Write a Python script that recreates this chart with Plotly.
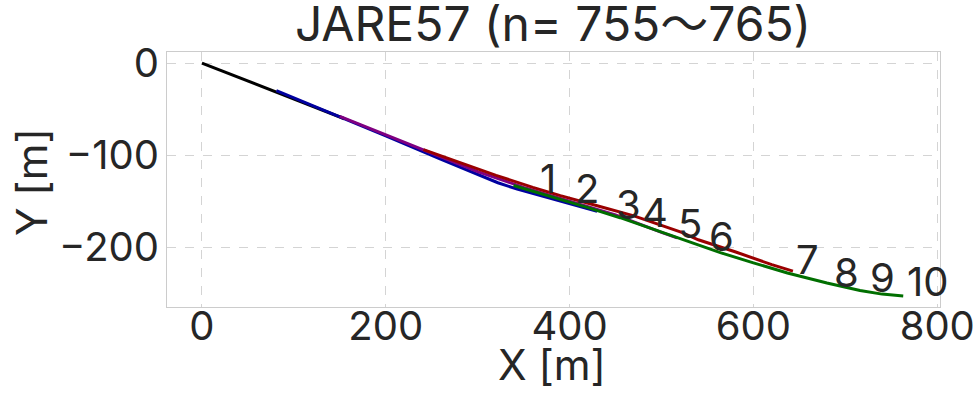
import plotly.graph_objects as go

# Survey tracks, positions in metres (x east, y north of the start point)
black_x = [0, 20, 38, 60, 80, 100, 120, 140, 155]
black_y = [0, -7.8, -14.5, -23.5, -31, -39, -47, -55, -60.5]

blue_x = [81, 120, 160, 200, 259, 300, 322, 343, 380, 410, 430]
blue_y = [-30, -46, -62, -79, -104, -121, -130, -137, -147, -155, -161]

purple_x = [150, 200, 250, 300, 350, 400, 450, 500, 517]
purple_y = [-58, -78, -98, -118, -135, -150, -165, -184, -190]

red_x = [241, 280, 320, 360, 390, 430, 470, 522, 540, 580, 620, 643]
red_y = [-94, -108, -122, -135, -144, -155, -166, -184, -192, -205, -219, -226]

green_x = [339, 380, 420, 455, 500, 540, 564, 600, 637, 680, 716, 740, 763]
green_y = [-133, -145, -157, -168, -184, -198, -206, -217, -228, -239, -247, -251, -253]

# Station numbers written along the route
label_text = ["1", "2", "3", "4", "5", "6", "7", "8", "9", "10"]
label_x = [376.5, 419.1, 464.6, 492.9, 530.5, 565.8, 658.3, 701.8, 739.9, 790.0]
label_y = [-125.3, -136.2, -153.6, -162.3, -174.2, -188.4, -213.4, -227.5, -232.9, -237.3]

x_ticks = [0, 200, 400, 600, 800]
y_ticks = [-200, -100, 0]

TEXT = "#262626"
FONT = "Inter, 'Noto Sans CJK JP', sans-serif"

# Plot-area geometry in pixels, used to place the axis titles
FIG_W, FIG_H = 976, 399
M_L, M_R, M_T, M_B = 167, 36, 52, 92
PLOT_W = FIG_W - M_L - M_R
PLOT_H = FIG_H - M_T - M_B

tracks = [
    (black_x, black_y, "#000000"),
    (blue_x, blue_y, "#0000a0"),
    (purple_x, purple_y, "#800080"),
    (red_x, red_y, "#9a0000"),
    (green_x, green_y, "#006f00"),
]

fig = go.Figure()
for xs, ys, color in tracks:
    fig.add_trace(go.Scatter(x=xs, y=ys, mode="lines",
                             line=dict(color=color, width=3),
                             showlegend=False, hoverinfo="skip"))

for t, x, y in zip(label_text, label_x, label_y):
    fig.add_annotation(x=x, y=y, text=t, showarrow=False,
                       xanchor="center", yanchor="middle",
                       font=dict(family=FONT, size=40, color=TEXT))

# Axis titles
fig.add_annotation(text="X [m]", xref="paper", yref="paper",
                   x=(552 - M_L) / PLOT_W, y=-(364 - (M_T + PLOT_H)) / PLOT_H,
                   xanchor="center", yanchor="middle", showarrow=False,
                   font=dict(family=FONT, size=42, color=TEXT))
fig.add_annotation(text="Y [m]", xref="paper", yref="paper",
                   x=(31 - M_L) / PLOT_W, y=1 - (182 - M_T) / PLOT_H,
                   xanchor="center", yanchor="middle", textangle=-90, showarrow=False,
                   font=dict(family=FONT, size=42, color=TEXT))

axis_common = dict(
    showgrid=True, gridcolor="#d4d4d4", griddash="dash", gridwidth=1,
    showline=True, linecolor="#cccccc", linewidth=1, mirror=True,
    zeroline=False, ticks="", automargin=False,
    tickfont=dict(family=FONT, size=40, color=TEXT),
)

fig.update_xaxes(range=[-38, 803], tickvals=x_ticks, ticklabelstandoff=-16, **axis_common)
fig.update_yaxes(range=[-265, 12], tickvals=y_ticks, ticklabelstandoff=-1, **axis_common)

fig.update_layout(
    width=FIG_W, height=FIG_H,
    margin=dict(l=M_L, r=M_R, t=M_T, b=M_B),
    paper_bgcolor="white", plot_bgcolor="white",
    font=dict(family=FONT, color=TEXT),
    title=dict(text="JARE57 (n= 755〜765)", x=553 / FIG_W, xanchor="center",
               y=1 - 24 / FIG_H, yanchor="middle", yref="container",
               font=dict(family=FONT, size=48, color=TEXT)),
)

fig.write_html("out.html")
